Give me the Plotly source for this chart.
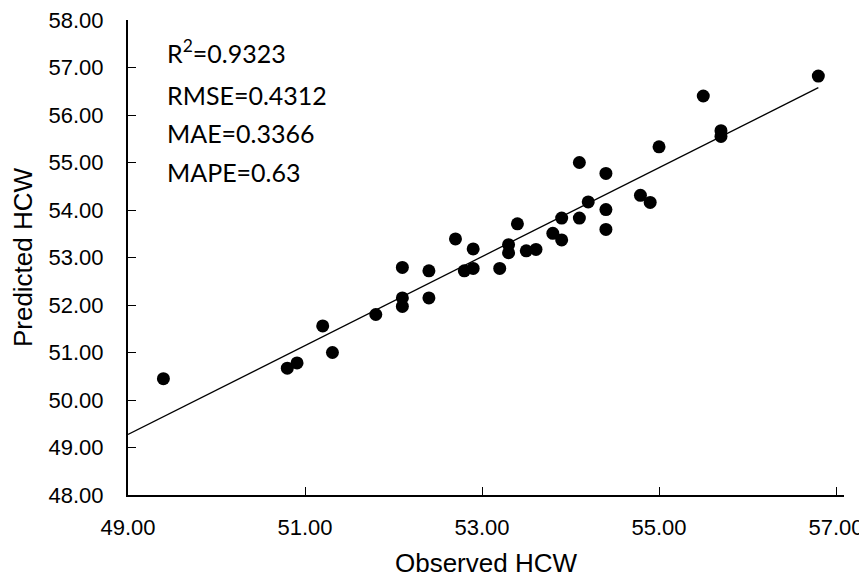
import numpy as np
import plotly.graph_objects as go

observed = [49.40, 50.80, 50.91, 51.20, 51.31, 51.80, 52.10, 52.10, 52.10, 52.40, 52.40,
            52.70, 52.80, 52.90, 52.90, 53.20, 53.30, 53.30, 53.40, 53.50, 53.61, 53.80,
            53.90, 53.90, 54.10, 54.10, 54.20, 54.40, 54.40, 54.40, 54.79, 54.90, 55.00,
            55.50, 55.70, 55.70, 56.80]
predicted = [50.45, 50.67, 50.78, 51.56, 51.00, 51.80, 52.79, 52.15, 51.97, 52.72, 52.15,
             53.39, 52.72, 53.18, 52.77, 52.77, 53.27, 53.10, 53.71, 53.14, 53.17, 53.51,
             53.83, 53.37, 55.00, 53.83, 54.17, 54.77, 54.01, 53.59, 54.31, 54.16, 55.33,
             56.40, 55.67, 55.55, 56.82]

stats_labels = ["R<sup>2</sup>=0.9323", "RMSE=0.4312", "MAE=0.3366", "MAPE=0.63"]
x_ticks = [49, 51, 53, 55, 57]
y_ticks = [48, 49, 50, 51, 52, 53, 54, 55, 56, 57, 58]
trend_x = [49.0, max(observed)]

slope, intercept = np.polyfit(observed, predicted, 1)
trend_y = [slope * v + intercept for v in trend_x]

fig = go.Figure()
fig.add_trace(go.Scatter(x=trend_x, y=trend_y, mode="lines",
                         line=dict(color="black", width=1.3), showlegend=False,
                         hoverinfo="skip"))
fig.add_trace(go.Scatter(x=observed, y=predicted, mode="markers",
                         marker=dict(color="black", size=13), showlegend=False))

ann_y = [0.933, 0.842, 0.762, 0.681]
for lbl, yy in zip(stats_labels, ann_y):
    fig.add_annotation(text=lbl, xref="paper", yref="paper", x=0.052, y=yy,
                       xanchor="left", yanchor="middle", showarrow=False,
                       font=dict(family="Lato", size=25, color="black"))

axis_font = dict(family="Liberation Sans, Arial", size=22, color="black")
title_font = dict(family="Liberation Sans, Arial", size=26, color="black")
fig.update_xaxes(range=[49, 57.09], tickvals=x_ticks, tickformat=".2f",
                 showgrid=False, zeroline=False, showline=True, linecolor="black",
                 linewidth=2, ticks="inside", ticklen=8, tickwidth=1.3, tickcolor="black",
                 tickfont=axis_font, ticklabelstandoff=12, ticklabeloverflow="allow",
                 title=dict(text="Observed HCW", font=title_font, standoff=17))
fig.update_yaxes(range=[48, 58], tickvals=y_ticks, tickformat=".2f",
                 showgrid=False, zeroline=False, showline=True, linecolor="black",
                 linewidth=2, ticks="inside", ticklen=8, tickwidth=1.3, tickcolor="black",
                 tickfont=axis_font, ticklabelstandoff=18, ticklabeloverflow="allow",
                 title=dict(text="Predicted HCW", font=title_font, standoff=12))
fig.update_layout(width=859, height=570, plot_bgcolor="white", paper_bgcolor="white",
                  margin=dict(l=120, r=23, t=12, b=83, autoexpand=False))
fig.write_html("out.html")
